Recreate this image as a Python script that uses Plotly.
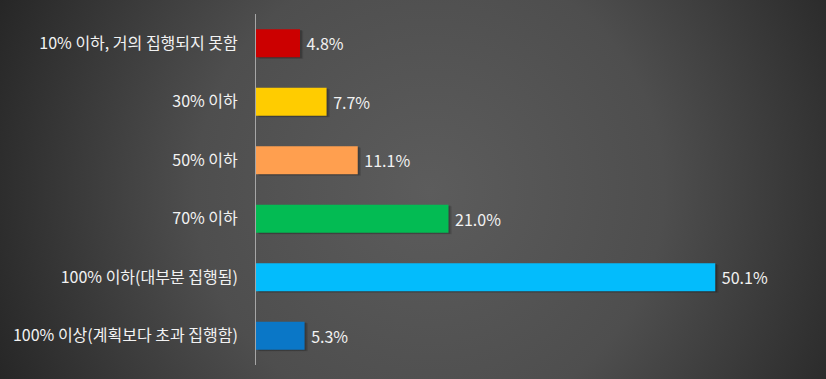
import plotly.graph_objects as go
import base64

categories = [
    "10% 이하, 거의 집행되지 못함",
    "30% 이하",
    "50% 이하",
    "70% 이하",
    "100% 이하(대부분 집행됨)",
    "100% 이상(계획보다 초과 집행함)",
]
values = [4.8, 7.7, 11.1, 21.0, 50.1, 5.3]
colors = ["#CC0000", "#FFCC00", "#FF9F4F", "#03BB53", "#03BCFC", "#0A77C7"]

svg = """<svg xmlns='http://www.w3.org/2000/svg' width='826' height='379' viewBox='0 0 826 379' preserveAspectRatio='none'>
<defs><radialGradient id='g' gradientUnits='userSpaceOnUse' cx='430' cy='190' r='520'>
<stop offset='0%' stop-color='#5c5c5c'/>
<stop offset='45%' stop-color='#4e4e4e'/>
<stop offset='100%' stop-color='#1e1e1e'/>
</radialGradient></defs>
<rect width='826' height='379' fill='url(#g)'/></svg>"""
bg = "data:image/svg+xml;base64," + base64.b64encode(svg.encode()).decode()

L, R, T, B = 256, 20, 14, 14
PW, PH = 826 - L - R, 379 - T - B

fig = go.Figure()
# soft shadow layers
for dx, off, a in [(0.35, -0.215, 0.12), (0.2, -0.225, 0.18)]:
    fig.add_trace(go.Bar(
        y=categories, x=values, orientation="h",
        base=dx, width=0.48, offset=off,
        marker=dict(color=f"rgba(0,0,0,{a})", line=dict(width=0)),
        hoverinfo="skip", showlegend=False,
    ))
fig.add_trace(go.Bar(
    y=categories, x=values, orientation="h",
    width=0.48, offset=-0.24,
    marker=dict(color=colors, line=dict(width=0)),
    text=[f"\u00a0{v:.1f}%" for v in values],
    textposition="outside",
    textfont=dict(color="#f2f2f2", size=16, family="Noto Sans CJK KR"),
    cliponaxis=False,
    showlegend=False,
))

fig.update_layout(
    width=826, height=379,
    barmode="overlay",
    margin=dict(l=L, r=R, t=T, b=B, autoexpand=False),
    paper_bgcolor="#3a3a3a",
    plot_bgcolor="rgba(0,0,0,0)",
    font=dict(family="Noto Sans CJK KR", color="#f2f2f2"),
    images=[dict(source=bg, xref="paper", yref="paper", x=-L / PW, y=1 + T / PH,
                 sizex=826 / PW, sizey=379 / PH, sizing="stretch", layer="below",
                 xanchor="left", yanchor="top")],
    xaxis=dict(range=[0, 60], visible=False, fixedrange=True, automargin=False),
    yaxis=dict(autorange="reversed", showline=True, linecolor="#a6a6a6", linewidth=1,
               showgrid=False, ticks="", ticklabelstandoff=14, automargin=False,
               fixedrange=True,
               tickfont=dict(size=16, color="#f2f2f2", family="Noto Sans CJK KR")),
)

fig.write_html("out.html", config={"displayModeBar": False},
               post_script="document.body.style.margin='0';document.body.style.overflow='hidden';")
